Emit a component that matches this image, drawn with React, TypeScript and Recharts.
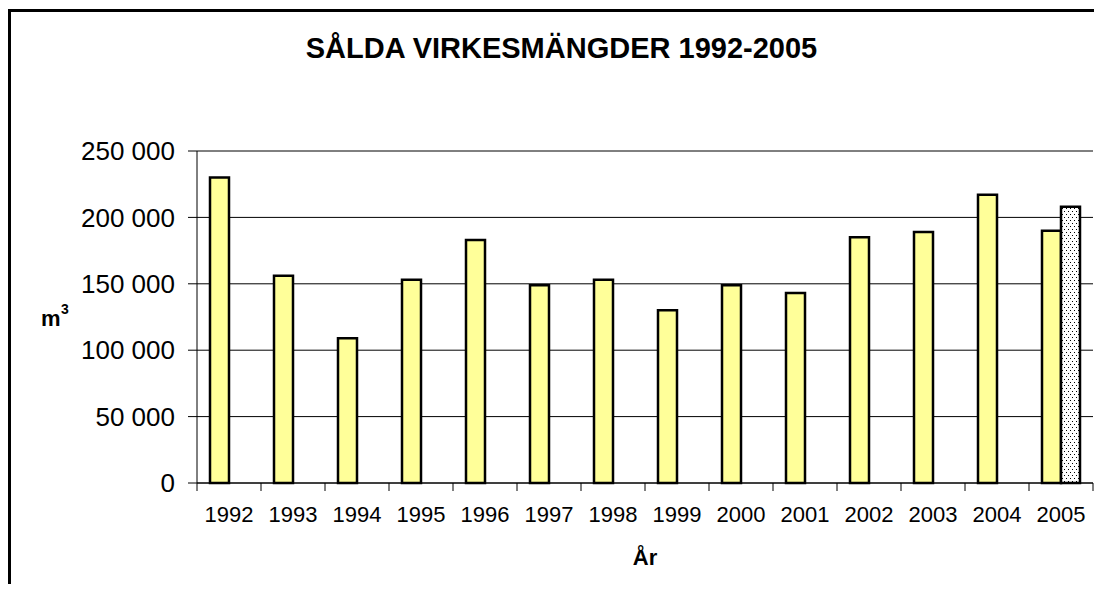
import React from 'react';
import { BarChart, Bar, XAxis, YAxis, CartesianGrid } from 'recharts';

const years = ['1992', '1993', '1994', '1995', '1996', '1997', '1998', '1999', '2000', '2001', '2002', '2003', '2004', '2005'];
const soldVolume = [230000, 156000, 109000, 153000, 183000, 149000, 153000, 130000, 149000, 143000, 185000, 189000, 217000, 190000];
const extraVolume = [null, null, null, null, null, null, null, null, null, null, null, null, null, 208000];
const yTicks = [0, 50000, 100000, 150000, 200000, 250000];

const data = years.map((y, i) => ({ year: y, sold: soldVolume[i], extra: extraVolume[i] }));

const FONT = '"Liberation Sans", Arial, sans-serif';
const fmt = (v: number) => String(v).replace(/\B(?=(\d{3})+(?!\d))/g, ' ');

const CHART_W = 1083;
const CHART_H = 572;
const MARGIN = { top: 139, right: 1, left: 0, bottom: 61 };
const Y_AXIS_W = 186;
const PLOT_W = CHART_W - MARGIN.left - MARGIN.right - Y_AXIS_W;
const HALF_STEP = PLOT_W / years.length / 2;

function YearTick(props: any) {
  const { x, y, payload, index } = props;
  const last = index === years.length - 1;
  return (
    <g>
      <line x1={x - HALF_STEP} x2={x - HALF_STEP} y1={y} y2={y + 8} stroke="#000" />
      {last && <line x1={x + HALF_STEP} x2={x + HALF_STEP} y1={y} y2={y + 8} stroke="#000" />}
      <text x={x} y={y + 39} textAnchor="middle" fontSize={22} fontFamily={FONT} fill="#000">
        {payload.value}
      </text>
    </g>
  );
}

export default function App() {
  return (
    <div style={{ fontFamily: FONT }}>
      <svg width={0} height={0} style={{ position: 'absolute' }}>
        <defs>
          <pattern id="dots" width="4" height="6" patternUnits="userSpaceOnUse">
            <rect width="4" height="6" fill="#fff" />
            <rect x="1" y="1" width="1" height="1" fill="#000" />
            <rect x="3" y="4" width="1" height="1" fill="#000" />
          </pattern>
        </defs>
      </svg>
      <div
        style={{
          position: 'relative',
          marginTop: 1,
          width: 1086,
          height: 575,
          boxSizing: 'border-box',
          borderLeft: '3px solid #000',
          borderTop: '3px solid #000',
          background: '#fff',
        }}
      >
        <BarChart
          width={CHART_W}
          height={CHART_H}
          data={data}
          margin={MARGIN}
          barSize={19}
          barGap={0}
          barCategoryGap={13}
        >
          <CartesianGrid vertical={false} stroke="#000" />
          <XAxis
            dataKey="year"
            interval={0}
            tickLine={false}
            axisLine={{ stroke: '#000' }}
            tickSize={0}
            tickMargin={0}
            height={40}
            tick={<YearTick />}
          />
          <YAxis
            domain={[0, 250000]}
            ticks={yTicks}
            interval={0}
            width={Y_AXIS_W}
            tickSize={9}
            tickMargin={13}
            tickFormatter={fmt}
            axisLine={{ stroke: '#000' }}
            tickLine={{ stroke: '#000' }}
            tick={{ fontSize: 26, fill: '#000', fontFamily: FONT }}
          />
          <Bar dataKey="sold" fill="#FFFF99" stroke="#000" strokeWidth={2.5} isAnimationActive={false} />
          <Bar dataKey="extra" fill="url(#dots)" stroke="#000" strokeWidth={2.5} isAnimationActive={false} />
        </BarChart>
        <svg
          width={CHART_W}
          height={CHART_H}
          style={{ position: 'absolute', left: 0, top: 0, pointerEvents: 'none' }}
        >
          <text x={550.5} y={46} textAnchor="middle" fontSize={29} fontWeight="bold" fontFamily={FONT} fill="#000">
            SÅLDA VIRKESMÄNGDER 1992-2005
          </text>
          <text x={30} y={314} fontSize={22} fontWeight="bold" fontFamily={FONT} fill="#000">
            m
          </text>
          <text x={50} y={302} fontSize={14} fontWeight="bold" fontFamily={FONT} fill="#000">
            3
          </text>
          <text x={634} y={553} textAnchor="middle" fontSize={22} fontWeight="bold" fontFamily={FONT} fill="#000">
            År
          </text>
        </svg>
      </div>
    </div>
  );
}
